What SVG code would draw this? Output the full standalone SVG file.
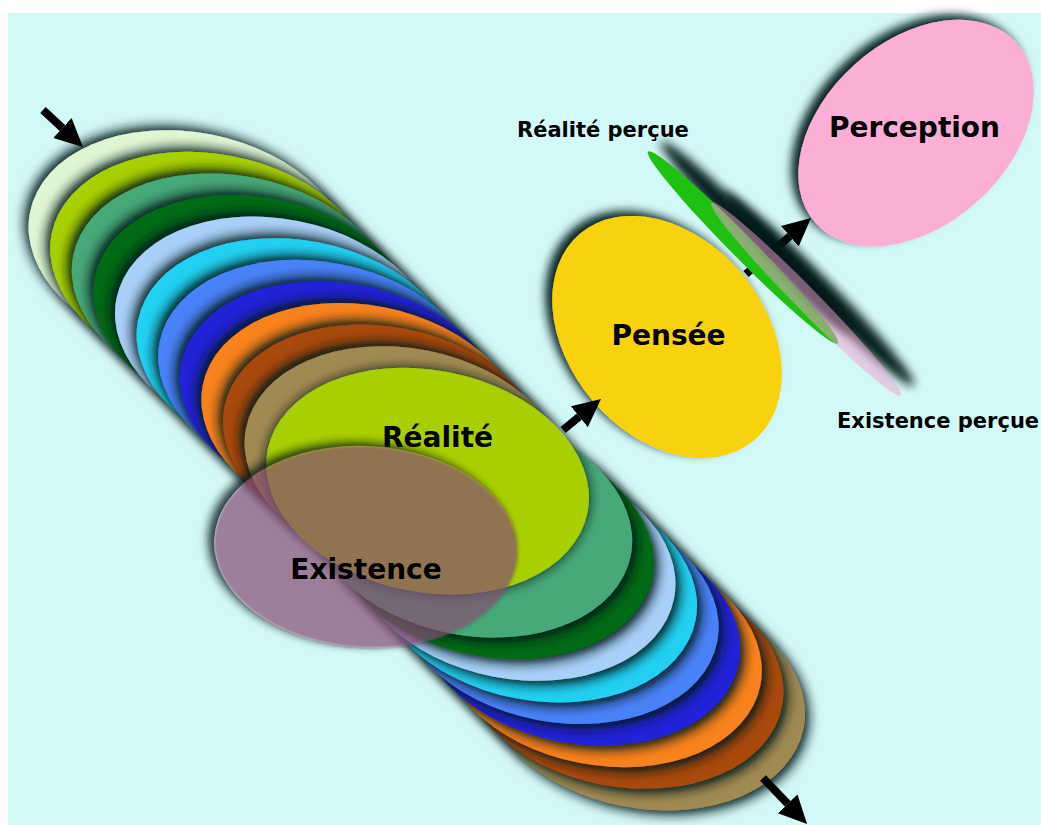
<svg xmlns="http://www.w3.org/2000/svg" xmlns:xlink="http://www.w3.org/1999/xlink" width="1041" height="825" viewBox="0 0 1041 825">
  <style>
    .lbl{font-family:"DejaVu Sans","Verdana","Liberation Sans",sans-serif;font-weight:bold;fill:#000;}
    .big{font-size:28px;text-anchor:middle;}
    .small{font-size:21px;}
    .shaft{stroke:#000;stroke-width:8;fill:none;marker-end:url(#head);}
    .c-pale{fill:#dff6d4}
    .c-lime{fill:#a8d000}
    .c-sea{fill:#46a878}
    .c-forest{fill:#006a12}
    .c-sky{fill:#a8d0f8}
    .c-cyan{fill:#22d0f2}
    .c-corn{fill:#4a82f8}
    .c-blue{fill:#2222d8}
    .c-orange{fill:#f8821a}
    .c-rust{fill:#a84a0a}
    .c-tan{fill:#a08a52}
  </style>
  <defs>
    <!-- one tilted disc, reused for every slice of the stack -->
    <ellipse id="disc" cx="0" cy="0" rx="163" ry="111" transform="rotate(11)"/>

    <!-- soft dark drop shadows -->
    <filter id="shUp" x="-30%" y="-30%" width="160%" height="160%">
      <feGaussianBlur in="SourceAlpha" stdDeviation="6"/>
      <feOffset dx="-4" dy="-4" result="b"/>
      <feFlood flood-color="#041818" flood-opacity="1"/>
      <feComposite in2="b" operator="in"/>
      <feMerge><feMergeNode/><feMergeNode in="SourceGraphic"/></feMerge>
    </filter>
    <filter id="shDown" x="-30%" y="-30%" width="160%" height="160%">
      <feGaussianBlur in="SourceAlpha" stdDeviation="6"/>
      <feOffset dx="4" dy="4" result="b"/>
      <feFlood flood-color="#041818" flood-opacity="1"/>
      <feComposite in2="b" operator="in"/>
      <feMerge><feMergeNode/><feMergeNode in="SourceGraphic"/></feMerge>
    </filter>
    <filter id="shMid" x="-30%" y="-30%" width="160%" height="160%">
      <feGaussianBlur in="SourceAlpha" stdDeviation="6"/>
      <feOffset dx="0" dy="0" result="b"/>
      <feFlood flood-color="#041818" flood-opacity="1"/>
      <feComposite in2="b" operator="in"/>
      <feMerge><feMergeNode/><feMergeNode in="SourceGraphic"/></feMerge>
    </filter>
    <filter id="shLeft" x="-30%" y="-30%" width="160%" height="160%">
      <feGaussianBlur in="SourceAlpha" stdDeviation="5"/>
      <feOffset dx="-7" dy="-5" result="b"/>
      <feFlood flood-color="#041818" flood-opacity="0.95"/>
      <feComposite in2="b" operator="in"/>
      <feMerge><feMergeNode/><feMergeNode in="SourceGraphic"/></feMerge>
    </filter>
    <filter id="blur5" x="-50%" y="-50%" width="200%" height="200%">
      <feGaussianBlur stdDeviation="5"/>
    </filter>
    <filter id="soft" x="-10%" y="-10%" width="120%" height="120%">
      <feGaussianBlur stdDeviation="1.2"/>
    </filter>

    <!-- keeps the shadow of the translucent disc outside its own outline -->
    <mask id="exMask" maskUnits="userSpaceOnUse" x="0" y="0" width="1041" height="825">
      <rect x="0" y="0" width="1041" height="825" fill="#fff"/>
      <ellipse cx="366" cy="547" rx="152" ry="101" transform="rotate(3 366 547)" fill="#000"/>
    </mask>

    <marker id="head" markerUnits="userSpaceOnUse" markerWidth="28" markerHeight="28" viewBox="0 -14 28 28" refX="0" refY="0" orient="auto">
      <path d="M0,-13.5 L28,0 L0,13.5 z" fill="#000"/>
    </marker>
  </defs>

  <rect x="0" y="0" width="1041" height="825" fill="#fff"/>
  <rect x="8" y="13" width="1033" height="812" fill="#d3f8f8"/>

  <!-- upper half of the stack, later slices on top -->
  <g id="stack-upper">
    <g id="disc-00" filter="url(#shUp)"><use href="#disc" x="190" y="243.5" class="c-pale"/></g>
    <g id="disc-01" filter="url(#shUp)"><use href="#disc" x="211.6" y="265.1" class="c-lime"/></g>
    <g id="disc-02" filter="url(#shUp)"><use href="#disc" x="233.2" y="286.7" class="c-sea"/></g>
    <g id="disc-03" filter="url(#shUp)"><use href="#disc" x="254.8" y="308.3" class="c-forest"/></g>
    <g id="disc-04" filter="url(#shUp)"><use href="#disc" x="276.4" y="329.9" class="c-sky"/></g>
    <g id="disc-05" filter="url(#shUp)"><use href="#disc" x="298" y="351.5" class="c-cyan"/></g>
    <g id="disc-06" filter="url(#shUp)"><use href="#disc" x="319.6" y="373.1" class="c-corn"/></g>
    <g id="disc-07" filter="url(#shUp)"><use href="#disc" x="341.2" y="394.7" class="c-blue"/></g>
    <g id="disc-08" filter="url(#shUp)"><use href="#disc" x="362.8" y="416.3" class="c-orange"/></g>
    <g id="disc-09" filter="url(#shUp)"><use href="#disc" x="384.4" y="437.9" class="c-rust"/></g>
    <g id="disc-10" filter="url(#shUp)"><use href="#disc" x="406" y="459.5" class="c-tan"/></g>
  </g>

  <!-- lower half of the stack, slices nearer the middle on top -->
  <g id="stack-lower">
    <g id="disc-21" filter="url(#shDown)"><use href="#disc" x="643.6" y="697.1" class="c-tan"/></g>
    <g id="disc-20" filter="url(#shDown)"><use href="#disc" x="622" y="675.5" class="c-rust"/></g>
    <g id="disc-19" filter="url(#shDown)"><use href="#disc" x="600.4" y="653.9" class="c-orange"/></g>
    <g id="disc-18" filter="url(#shDown)"><use href="#disc" x="578.8" y="632.3" class="c-blue"/></g>
    <g id="disc-17" filter="url(#shDown)"><use href="#disc" x="557.2" y="610.7" class="c-corn"/></g>
    <g id="disc-16" filter="url(#shDown)"><use href="#disc" x="535.6" y="589.1" class="c-cyan"/></g>
    <g id="disc-15" filter="url(#shDown)"><use href="#disc" x="514" y="567.5" class="c-sky"/></g>
    <g id="disc-14" filter="url(#shDown)"><use href="#disc" x="492.4" y="545.9" class="c-forest"/></g>
    <g id="disc-13" filter="url(#shDown)"><use href="#disc" x="470.8" y="524.3" class="c-sea"/></g>
  </g>

  <!-- Réalité -->
  <g id="realite">
    <g filter="url(#shMid)"><use href="#disc" x="427.6" y="481.1" class="c-lime"/></g>
    <text class="lbl big" x="437.5" y="447">Réalité</text>
  </g>

  <!-- Existence: translucent disc over the stack -->
  <g id="existence">
    <g mask="url(#exMask)">
      <ellipse cx="360" cy="544" rx="152" ry="101" transform="rotate(3 360 544)" fill="#041818" opacity="0.85" filter="url(#blur5)"/>
    </g>
    <ellipse cx="366" cy="547" rx="152" ry="101" transform="rotate(3 366 547)" fill="#864c73" fill-opacity="0.7" filter="url(#soft)"/>
    <text class="lbl big" x="366" y="579">Existence</text>
  </g>

  <!-- Pensée -->
  <g id="pensee">
    <g filter="url(#shLeft)">
      <ellipse cx="667" cy="337" rx="135" ry="98" transform="rotate(50 667 337)" fill="#f8d20a"/>
    </g>
    <text class="lbl big" x="668.5" y="345">Pensée</text>
  </g>

  <!-- Perception -->
  <g id="perception">
    <g filter="url(#shLeft)">
      <ellipse cx="916" cy="133" rx="135" ry="92" transform="rotate(-42 916 133)" fill="#fbaed6"/>
    </g>
    <text class="lbl big" x="914.5" y="137">Perception</text>
  </g>

  <!-- connectors -->
  <g id="connectors">
    <line class="shaft" x1="43" y1="110" x2="62.4" y2="128"/>
    <line class="shaft" x1="563" y1="430" x2="579.3" y2="416.7"/>
    <line class="shaft" x1="746" y1="274" x2="789.8" y2="236.3"/>
    <line class="shaft" x1="763" y1="778" x2="787.7" y2="803.8"/>
  </g>

  <!-- Réalité perçue: thin green disc seen edge-on -->
  <g id="realite-percue">
    <ellipse cx="756" cy="237.5" rx="135" ry="12" transform="rotate(45.3 756 237.5)" fill="#041818" opacity="0.95" filter="url(#blur5)"/>
    <ellipse cx="743" cy="247.5" rx="135" ry="11.5" transform="rotate(45.3 743 247.5)" fill="#20c010"/>
    <text class="lbl small" x="517" y="137">Réalité perçue</text>
  </g>

  <!-- Existence perçue: thin translucent pink disc seen edge-on -->
  <g id="existence-percue">
    <ellipse cx="819" cy="289" rx="135" ry="12.5" transform="rotate(45.5 819 289)" fill="#041818" opacity="0.95" filter="url(#blur5)"/>
    <ellipse cx="806" cy="299" rx="135" ry="11.5" transform="rotate(45.5 806 299)" fill="#f0a0d0" fill-opacity="0.5"/>
    <text class="lbl small" x="837" y="428">Existence perçue</text>
  </g>
</svg>
